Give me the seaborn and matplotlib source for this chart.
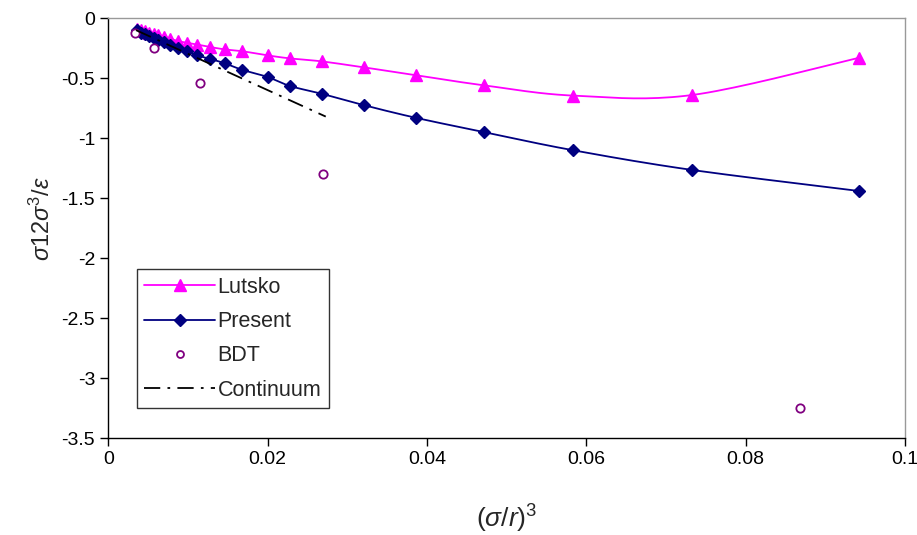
import numpy as np
import pandas as pd
import matplotlib
matplotlib.use("Agg")
import matplotlib.pyplot as plt
from matplotlib.ticker import FuncFormatter
import seaborn as sns

# Data
x_vals = [0.0036, 0.0041, 0.0046, 0.0051, 0.0057, 0.0063, 0.0070, 0.0078,
          0.0087, 0.0099, 0.0112, 0.0128, 0.0146, 0.0168, 0.0200, 0.0228,
          0.0268, 0.0321, 0.0386, 0.0472, 0.0583, 0.0733, 0.0942]
lutsko = [-0.09, -0.10, -0.11, -0.12, -0.13, -0.14, -0.155, -0.17,
          -0.19, -0.205, -0.22, -0.24, -0.26, -0.275, -0.31, -0.335,
          -0.36, -0.41, -0.475, -0.56, -0.645, -0.64, -0.33]
present = [-0.10, -0.12, -0.135, -0.15, -0.165, -0.18, -0.20, -0.225,
           -0.25, -0.275, -0.31, -0.34, -0.375, -0.43, -0.49, -0.565,
           -0.63, -0.725, -0.83, -0.95, -1.10, -1.265, -1.44]
bdt_x = [0.0033, 0.0058, 0.0115, 0.0270, 0.0868]
bdt_y = [-0.12, -0.25, -0.54, -1.30, -3.25]
cont_x = [0.0035, 0.0273]
cont_y = [-0.10, -0.82]


def smooth(xs, ys, n=20):
    # Excel-like smoothed line (Catmull-Rom as cubic Bezier)
    p = np.column_stack([xs, ys]).astype(float)
    p = np.vstack([p[0], p, p[-1]])
    out = []
    t = np.linspace(0, 1, n, endpoint=False)[:, None]
    for i in range(1, len(p) - 2):
        p0, p1, p2, p3 = p[i - 1], p[i], p[i + 1], p[i + 2]
        c1 = p1 + (p2 - p0) / 6
        c2 = p2 - (p3 - p1) / 6
        seg = ((1 - t) ** 3) * p1 + 3 * ((1 - t) ** 2) * t * c1 \
            + 3 * (1 - t) * t ** 2 * c2 + t ** 3 * p2
        out.append(seg)
    out.append(p[-2][None, :])
    out = np.vstack(out)
    return pd.DataFrame({"x": out[:, 0], "y": out[:, 1]})


sns.set_style("white")
plt.rcParams['font.family'] = ['Liberation Sans', 'DejaVu Sans']
plt.rcParams['mathtext.fontset'] = 'custom'
plt.rcParams['mathtext.rm'] = 'Liberation Sans'
plt.rcParams['mathtext.it'] = 'Liberation Sans:italic'
plt.rcParams['axes.unicode_minus'] = False

fig = plt.figure(figsize=(9.17, 5.35), dpi=100)
ax = fig.add_axes([0.118, 0.181, 0.869, 0.785])

magenta = "#FF00FF"
navy = "#000080"
purple = "#800080"
dashdot = (0, (9, 4, 1.5, 4))

sns.lineplot(data=smooth(x_vals, lutsko), x="x", y="y", ax=ax, color=magenta,
             lw=1.3, sort=False, estimator=None)
sns.lineplot(data=smooth(x_vals, present), x="x", y="y", ax=ax, color=navy,
             lw=1.3, sort=False, estimator=None)
ax.plot(x_vals, lutsko, ls="none", marker="^", ms=8, color=magenta)
ax.plot(x_vals, present, ls="none", marker="D", ms=6, color=navy)
ax.plot(bdt_x, bdt_y, ls="none", marker="o", ms=6, mfc="white",
        mec=purple, mew=1.3)
ax.plot(cont_x, cont_y, color="black", lw=1.3, ls=dashdot)

# legend handles
h1, = ax.plot([], [], color=magenta, lw=1.3, marker="^", ms=8)
h2, = ax.plot([], [], color=navy, lw=1.3, marker="D", ms=6)
h3, = ax.plot([], [], ls="none", marker="o", ms=5, mfc="white", mec=purple, mew=1.3)
h4, = ax.plot([], [], color="black", lw=1.3, ls=dashdot)
leg = ax.legend([h1, h2, h3, h4], ["Lutsko", "Present", "BDT", "Continuum"],
                loc="lower left", bbox_to_anchor=(0.036, 0.071), fontsize=15.5,
                frameon=True, fancybox=False, edgecolor="black",
                handlelength=3.3, handletextpad=0.1, labelspacing=0.62,
                borderpad=0.35, borderaxespad=0)
leg.get_frame().set_linewidth(1.0)

ax.set_xlim(0, 0.1)
ax.set_ylim(-3.5, 0)
ax.set_xticks(np.arange(0, 0.1001, 0.02))
ax.set_yticks(np.arange(-3.5, 0.01, 0.5))
ax.xaxis.set_major_formatter(FuncFormatter(lambda v, p: f"{v:g}"))
ax.yaxis.set_major_formatter(FuncFormatter(lambda v, p: f"{v:g}"))
ax.tick_params(axis="both", direction="out", length=6, width=1, labelsize=14,
               left=True, bottom=True, colors="black")
for side in ["left", "bottom"]:
    ax.spines[side].set_color("black")
    ax.spines[side].set_linewidth(1)
for side in ["top", "right"]:
    ax.spines[side].set_color("#999999")
    ax.spines[side].set_linewidth(1)

ax.set_xlabel(r"($\sigma$/$r$)$^3$", fontsize=19)
ax.xaxis.set_label_coords(0.5, -0.155)
ax.set_ylabel(r"$\sigma$12$\sigma^3$/$\varepsilon$", fontsize=17)
ax.yaxis.set_label_coords(-0.067, 0.524)

fig.savefig("out.png", dpi=100, facecolor="white")
